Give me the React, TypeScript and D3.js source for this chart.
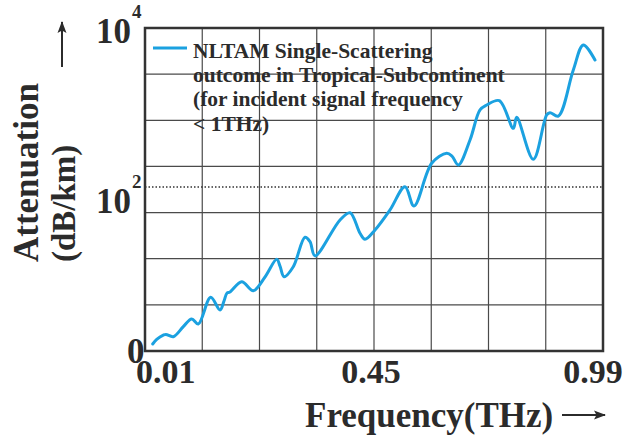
import React from "react";
import * as d3 from "d3";

// ---- data ----
const frequency = [
  0.0248, 0.0325, 0.0452, 0.0503, 0.0644, 0.0836, 0.0997, 0.1124, 0.1362, 0.1541,
  0.1618, 0.1676, 0.1733, 0.1958, 0.2181, 0.2406, 0.2631, 0.2694, 0.2771, 0.2949,
  0.3174, 0.327, 0.3366, 0.3847, 0.4039, 0.4231, 0.4327, 0.4524, 0.4877, 0.5231,
  0.5443, 0.5861, 0.6214, 0.6339, 0.6488, 0.6764, 0.7, 0.7158, 0.7455, 0.7785,
  0.7865, 0.8256, 0.8572, 0.865, 0.8846, 0.92, 0.9436, 0.9711,
];
const attenuation = [
  1.06, 1.21, 1.37, 1.4, 1.31, 1.75, 2.19, 1.89, 4.1, 2.84,
  3.68, 4.64, 4.77, 6.44, 4.96, 7.38, 12.3, 10.1, 7.44, 9.94,
  23.3, 20.5, 13.6, 38.5, 47.5, 26.2, 22.0, 28.8, 51.4, 100.9,
  57.7, 198.6, 265, 245, 189, 390, 931, 1074, 1219, 547,
  753, 223, 805, 861, 781, 2965, 6109, 3955,
];
const xTickValues = [0.01, 0.45, 0.99];
const xTickLabels = ["0.01", "0.45", "0.99"];
const Y_MIN = 0.865;
const yTickValues = [10000, 100, Y_MIN];
const yTickBases = ["10", "10", "0"];
const yTickExps = ["4", "2", ""];
const legendLines = [
  "NLTAM Single-Scattering",
  "outcome in Tropical-Subcontinent",
  "(for incident signal frequency",
  "< 1THz)",
];
const X_GRID_DIVS = 8;
const Y_GRID_DIVS = 7;

// ---- layout ----
const W = 639;
const H = 437;
const M = { left: 145, right: 36, top: 28, bottom: 86 };
const IW = W - M.left - M.right;
const IH = H - M.top - M.bottom;
const TEXT = "#2b2b2b";
const BLUE = "#1ba1e0";
const FONT = "'Liberation Serif', 'Times New Roman', serif";

export default function App() {
  const x = d3.scaleLinear().domain([0.01, 0.45, 0.99]).range([0, IW / 2, IW]);
  const y = d3.scaleLog().domain([Y_MIN, 10000]).range([IH, 0]);
  const gx = d3.scaleLinear().domain([0, X_GRID_DIVS]).range([0, IW]);
  const gy = d3.scaleLinear().domain([0, Y_GRID_DIVS]).range([IH, 0]);

  const pts: [number, number][] = frequency.map((f, i) => [f, attenuation[i]]);
  const line = d3
    .line<[number, number]>()
    .x((d) => x(d[0]))
    .y((d) => y(d[1]))
    .curve(d3.curveCatmullRom.alpha(0.5));

  const xAnchors = ["start", "middle", "middle"];
  const xShift = [-9, -3, -10];
  const yLabelDy = [15, 26, 12];

  return (
    <svg
      width={W}
      height={H}
      style={{ position: "absolute", left: 0, top: 0, background: "#fff" }}
      fontFamily={FONT}
      fontWeight="bold"
    >
      <defs>
        <marker id="ah" viewBox="0 0 12 10" refX="11" refY="5" markerWidth="13" markerHeight="10" orient="auto" markerUnits="userSpaceOnUse">
          <path d="M0,0.5 L12,5 L0,9.5 L2.5,5 Z" fill={TEXT} />
        </marker>
      </defs>
      <g transform={`translate(${M.left},${M.top})`}>
        {d3.range(1, X_GRID_DIVS).map((i) => (
          <line key={"vx" + i} x1={gx(i)} x2={gx(i)} y1={0} y2={IH} stroke="#4a4a4a" strokeWidth={1.2} />
        ))}
        {d3.range(1, Y_GRID_DIVS).map((i) => (
          <line key={"hy" + i} x1={0} x2={IW} y1={gy(i)} y2={gy(i)} stroke="#4a4a4a" strokeWidth={1.2} />
        ))}
        <line x1={0} x2={IW} y1={y(100)} y2={y(100)} stroke="#333" strokeWidth={1.3} strokeDasharray="1.5,2" />
        <path d={line(pts) || ""} fill="none" stroke={BLUE} strokeWidth={3} strokeLinejoin="round" strokeLinecap="round" />
        <rect x={0} y={0} width={IW} height={IH} fill="none" stroke="#333" strokeWidth={2.5} />

        {/* legend */}
        <line x1={8} x2={42} y1={20} y2={20} stroke={BLUE} strokeWidth={3} />
        {legendLines.map((t, i) => (
          <text key={t} x={48} y={30 + i * 24.2} fontSize={21.5} fill={TEXT}>
            {t}
          </text>
        ))}

        {/* x ticks */}
        {xTickValues.map((v, i) => (
          <text key={"xt" + i} x={x(v) + xShift[i]} y={IH + 32} fontSize={34} fill={TEXT} textAnchor={xAnchors[i]}>
            {xTickLabels[i]}
          </text>
        ))}

        {/* y ticks */}
        {yTickValues.map((v, i) => (
          <g key={"yt" + i}>
            <text
              x={yTickExps[i] ? -14 : -18}
              y={y(v) + yLabelDy[i]}
              fontSize={35}
              fill={TEXT}
              textAnchor={yTickExps[i] ? "end" : "start"}
            >
              {yTickBases[i]}
            </text>
            {yTickExps[i] && (
              <text x={-13} y={y(v) + yLabelDy[i] - 25} fontSize={19} fill={TEXT}>
                {yTickExps[i]}
              </text>
            )}
          </g>
        ))}
      </g>

      {/* axis titles */}
      <text x={305} y={427} fontSize={35} fill={TEXT}>
        Frequency(THz)
      </text>
      <line x1={562} x2={605} y1={415} y2={415} stroke={TEXT} strokeWidth={2} markerEnd="url(#ah)" />

      <text transform="translate(38,262) rotate(-90)" fontSize={35} fill={TEXT}>
        Attenuation
      </text>
      <text transform="translate(75,262) rotate(-90)" fontSize={33} fill={TEXT}>
        (dB/km)
      </text>
      <line x1={62} x2={62} y1={67} y2={22} stroke={TEXT} strokeWidth={2} markerEnd="url(#ah)" />
    </svg>
  );
}
